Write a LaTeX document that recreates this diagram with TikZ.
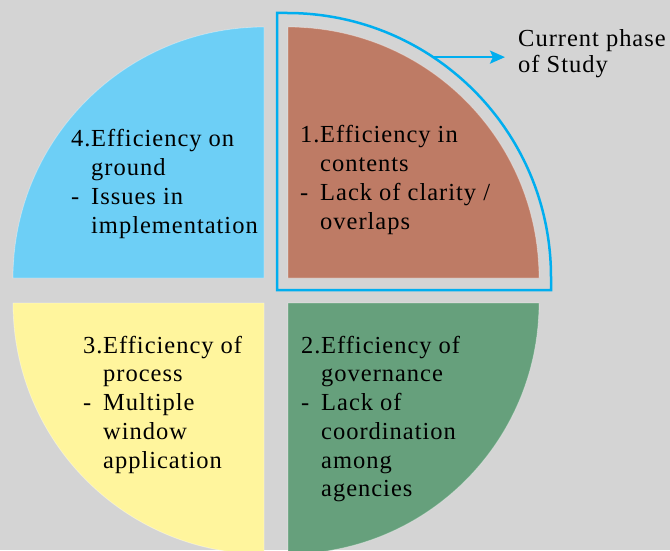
\documentclass[tikz,border=0pt]{standalone}
\usepackage{fontspec}
\setmainfont{Liberation Serif}[LetterSpace=4]
\usepackage{array}
\usetikzlibrary{arrows.meta,calc}

\definecolor{bggrey}{RGB}{212,212,212}
\definecolor{skyblue}{RGB}{109,207,246}
\definecolor{clay}{RGB}{190,123,101}
\definecolor{sage}{RGB}{102,160,124}
\definecolor{butter}{RGB}{255,245,157}
\definecolor{cyanline}{RGB}{0,174,239}

% numbered item with hanging lines
\newcommand{\phaseitem}[1]{%
  \fontsize{24.5}{28.8}\selectfont
  \begin{tabular}[t]{@{}p{20pt}@{}l@{}}#1\end{tabular}}

\begin{document}
\begin{tikzpicture}[x=1pt, y=1pt,
   quarter/.style={draw=white, draw opacity=0.35, line width=0.8pt},
   itemtext/.style={anchor=base west, inner sep=0pt},
   frame/.style={draw=cyanline, line width=2.5pt},
   pointer/.style={cyanline, line width=2.5pt,
                   -{Stealth[length=15pt, width=13pt, inset=3pt]}}]
   \useasboundingbox (0,0) rectangle (670,550);
   \fill[bggrey] (0,0) rectangle (670,550);
   \clip (0,0) rectangle (670,550);

   % four quarters
   \path[quarter, fill=skyblue] (264,272) -- (13,272) arc (180:90:251) -- cycle;
   \path[quarter, fill=clay] (288,272) -- (288,523) arc (90:0:251) -- cycle;
   \path[quarter, fill=sage] (288,247) -- (539,247) arc (0:-90:251) -- cycle;
   \path[quarter, fill=butter] (264,247) -- (264,-4) arc (270:180:251) -- cycle;

   % outline round the current quarter
   \draw[frame] (277,537) -- (287,537) arc (90:0:264) -- (551,260) -- (277,260) -- cycle;
   \coordinate (edge) at ($(287,273)+(56.4:264)$);

   \node[itemtext] (contents) at (300,407)
      {\phaseitem{1.& Efficiency in\\ & contents\\ -& Lack of clarity /\\ & overlaps}};
   \node[itemtext] (governance) at (301,197)
      {\phaseitem{2.& Efficiency of\\ & governance\\ -& Lack of\\ & coordination\\ & among\\ & agencies}};
   \node[itemtext] (process) at (83,197)
      {\phaseitem{3.& Efficiency of\\ & process\\ -& Multiple\\ & window\\ & application}};
   \node[itemtext] (ground) at (71,403)
      {\phaseitem{4.& Efficiency on\\ & ground\\ -& Issues in\\ & implementation}};

   \node[anchor=base west, inner sep=0pt, align=left,
         font=\fontsize{24.5}{26}\selectfont] (phase) at (518,477)
      {Current phase\\of Study};
   \draw[pointer] (edge) -- ([xshift=-13pt]phase.west |- edge);
\end{tikzpicture}
\end{document}
